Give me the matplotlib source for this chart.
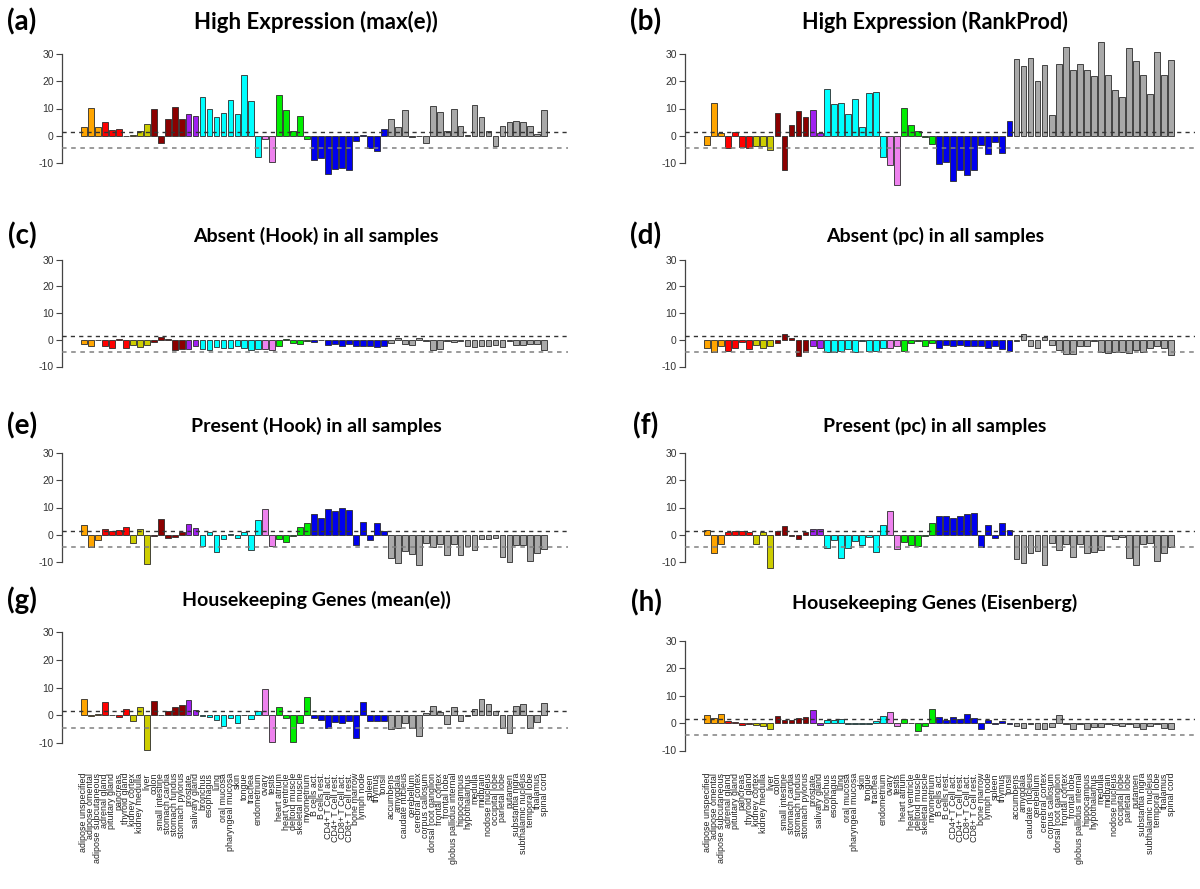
import matplotlib
matplotlib.use('Agg')
import matplotlib.pyplot as plt
from matplotlib.transforms import blended_transform_factory

tissues = [
    "adipose unspecified", "adipose omental", "adipose subcutaneous",
    "adrenal gland", "pituitary gland", "pancreas", "thyroid gland",
    "kidney cortex", "kidney medulla", "liver",
    "colon", "small intestine", "stomach cardia", "stomach fundus", "stomach pylorus",
    "prostate", "salivary gland",
    "bronchus", "esophagus", "lung", "oral mucosa", "pharyngeal mucosa", "skin",
    "tongue", "trachea", "endometrium",
    "ovary", "testis",
    "heart atrium", "heart ventricle", "deltoid muscle", "skeletal muscle", "myometrium",
    "B cells act.", "B cells rest.", "CD4+ T Cell act.", "CD4+ T Cell rest.",
    "CD8+ T Cell act.", "CD8+ T Cell rest.", "bone marrow", "lymph node", "spleen",
    "thymus", "tonsil",
    "accumbens", "amygdala", "caudate nucleus", "cerebellum", "cerebral cortex",
    "corpus callosum", "dorsal root ganglion", "frontal cortex", "frontal lobe",
    "globus pallidus internal", "hippocampus", "hypothalamus", "medulla", "midbrain",
    "nodose nucleus", "occipital lobe", "parietal lobe", "putamen", "substantia nigra",
    "subthalamic nucleus", "temporal lobe", "thalamus", "spinal cord",
]

group_sizes = [3, 4, 3, 5, 2, 9, 2, 5, 11, 23]
group_colors = ["#FFA500", "#FF0000", "#CDCD00", "#8B0000", "#A020F0",
                "#00FFFF", "#EE82EE", "#00EE00", "#0000EE", "#A9A9A9"]

high_max_e = [3.2, 10.1, 3.2, 5.2, 2.2, 2.4, -0.2, 0.3, 1.8, 4.3,
              9.9, -2.8, 6.3, 10.4, 6.1, 7.8, 7.4,
              14.4, 10.0, 6.8, 8.3, 13.0, 7.8, 22.3, 12.7, -7.8,
              -1.1, -9.8, 14.9, 9.4, 1.7, 7.2, -1.1,
              -9.0, -8.3, -14.0, -12.2, -11.8, -12.7, -2.1, 0.2, -4.6, -5.5, 2.4,
              6.1, 3.3, 9.4, -0.6, -0.1, -2.8, 10.9, 8.8, 1.6, 9.8, 3.5, 0.2,
              11.2, 6.8, 1.8, -3.7, 3.5, 4.9, 5.4, 5.0, 3.5, 0.5, 9.4]

high_rankprod = [-3.4, 11.9, 0.85, -4.5, 1.3, -4.1, -4.5, -3.6, -3.8, -5.1,
                 8.5, -12.4, 4.0, 9.2, 6.7, 9.5, 1.1,
                 17.3, 11.5, 12.2, 8.0, 13.6, 3.2, 15.6, 16.2, -7.8,
                 -10.7, -17.9, 10.1, 4.1, 1.7, -0.5, -3.0,
                 -10.4, -9.7, -16.7, -12.5, -14.4, -12.5, -3.4, -6.8, -2.4, -6.3, 5.5,
                 28.2, 25.6, 28.7, 20.2, 25.9, 7.5, 26.4, 32.7, 24.0, 26.4, 24.2, 21.8,
                 34.5, 22.2, 16.7, 14.1, 32.2, 27.5, 22.4, 15.2, 30.8, 22.2, 27.9]

absent_hook = [-1.5, -2.2, -0.2, -2.2, -2.9, 0.3, -2.9, -2.0, -2.7, -1.8,
               -0.9, 0.9, 0.4, -4.0, -3.4, -3.5, -2.5,
               -3.4, -3.7, -2.8, -3.0, -2.9, -2.5, -3.0, -3.7, -3.5,
               -3.4, -3.7, -2.2, 0.3, -1.3, -1.7, -0.3,
               -1.0, -0.2, -1.9, -1.7, -2.2, -1.7, -2.3, -2.5, -2.5, -2.8, -2.4,
               -1.2, 0.7, -1.5, -2.0, 0.8, -0.3, -3.8, -3.3, -0.3, -0.9, -0.3, -2.5,
               -2.7, -2.5, -2.5, -1.9, -2.7, -0.3, -2.0, -1.9, -1.7, -1.5, -3.7]

absent_pc = [-3.2, -4.7, -2.2, -4.1, -3.2, -0.8, -3.5, -2.1, -3.2, -2.2,
             -1.2, 2.0, 0.7, -6.2, -4.7, -2.2, -3.2,
             -4.7, -4.7, -4.1, -3.5, -4.4, -0.5, -4.1, -4.3, -3.1,
             -3.2, -2.5, -4.1, -1.4, -0.5, -2.5, -1.4,
             -3.2, -2.0, -2.2, -2.1, -2.5, -2.2, -2.5, -3.2, -2.2, -3.5, -4.2,
             -0.5, 2.1, -2.2, -3.0, 1.2, -2.0, -3.7, -5.4, -5.4, -2.5, -2.2, -0.3,
             -4.7, -4.9, -4.7, -4.7, -4.9, -3.8, -4.4, -3.2, -2.2, -3.0, -5.7]

present_hook = [3.6, -4.6, -1.9, 2.0, 1.4, 1.7, 2.7, -3.1, 2.1, -10.7,
                -0.3, 5.9, -1.1, -0.9, 1.1, 3.8, 2.3,
                -4.3, 0.9, -6.3, -1.5, 0.4, -1.2, 0.9, -5.6, 5.3,
                9.4, -4.1, -1.4, -2.7, -0.5, 3.0, 4.2,
                7.5, 6.3, 9.3, 8.8, 9.9, 9.1, -3.7, 4.7, -1.9, 4.2, 1.5,
                -8.6, -10.4, -6.0, -6.9, -11.1, -3.1, -4.6, -3.5, -7.4, -3.5, -7.5, -4.2,
                -5.6, -1.6, -1.6, -1.2, -8.0, -10.1, -3.7, -3.7, -9.5, -6.7, -5.2]

present_pc = [1.6, -6.7, -3.5, 1.1, 1.5, 1.4, 1.1, -3.5, 1.0, -12.3,
              1.2, 3.1, -0.5, -1.7, 1.0, 2.0, 2.1,
              -4.8, -1.9, -8.4, -4.9, -2.2, -3.7, -0.7, -6.2, 3.7,
              8.6, -5.2, -2.5, -3.7, -4.3, -0.3, 4.3,
              6.7, 6.7, 6.2, 6.8, 7.7, 8.0, -4.6, 3.6, -1.2, 4.3, 1.6,
              -8.9, -10.5, -6.7, -6.0, -11.1, -3.0, -5.7, -3.5, -8.1, -3.5, -6.8, -6.2,
              -5.6, -0.5, -1.6, -1.0, -8.5, -11.1, -3.5, -3.0, -9.5, -6.7, -4.6]

hk_mean_e = [5.7, -0.3, 0.6, 4.6, 0.2, -0.6, 2.4, -2.0, 2.8, -12.4,
             5.2, 0.1, 1.4, 3.1, 3.7, 5.5, 1.8,
             -0.3, -0.6, -1.7, -3.9, -1.1, -2.9, 0.2, -1.4, 1.7,
             9.6, -9.6, 2.8, -1.0, -9.5, -2.8, 6.4,
             -1.1, -1.8, -4.5, -2.5, -2.7, -2.2, -8.1, 4.9, -2.2, -2.0, -2.0,
             -5.1, -4.6, -2.9, -4.6, -7.5, 0.8, 3.4, 1.1, -3.3, 3.0, -1.9, -0.3,
             2.3, 5.8, 4.2, 1.6, -4.5, -6.3, 3.4, 4.1, -4.6, -2.5, 4.5]

hk_eisenberg = [3.0, 2.0, 3.5, 0.7, 0.5, -0.6, -0.2, -0.6, -1.1, -2.3,
                2.7, 1.0, 1.1, 1.8, 2.1, 4.8, -0.7,
                1.3, 1.0, 1.6, -0.2, -0.2, -0.2, -0.4, 0.6, 2.7,
                4.0, -1.2, 1.6, -0.1, -2.8, -1.0, 5.1,
                2.3, 1.2, 2.4, 1.6, 3.2, 1.8, -2.2, 1.0, -0.4, 0.6, -0.4,
                -1.1, -1.8, -0.4, -2.2, -2.2, -1.3, 2.8, -0.3, -2.1, -0.3, -2.1, -1.3,
                -1.3, -0.3, -0.8, -1.1, -0.3, -1.5, -2.0, -1.1, -0.3, -1.9, -2.2]

titles = ["High Expression (max(e))", "High Expression (RankProd)",
          "Absent (Hook) in all samples", "Absent (pc) in all samples",
          "Present (Hook) in all samples", "Present (pc) in all samples",
          "Housekeeping Genes (mean(e))", "Housekeeping Genes (Eisenberg)"]
letters = ["(a)", "(b)", "(c)", "(d)", "(e)", "(f)", "(g)", "(h)"]
panel_values = [high_max_e, high_rankprod, absent_hook, absent_pc,
                present_hook, present_pc, hk_mean_e, hk_eisenberg]

upper_cut = 1.45
lower_cut = -4.5

colors = []
for size, col in zip(group_sizes, group_colors):
    colors += [col] * size

W, H = 1200, 889
fig = plt.figure(figsize=(W / 100, H / 100), dpi=100)
fig.patch.set_facecolor("white")

# pixel layout: (left, right, title x, letter x)
cols_px = [(62, 568, 316, 22), (685, 1195, 935, 646)]
# per row/col: (y of 30, y of -10, title y, title size)
rows_px = [
    [(54, 163, 22, 16), (54, 163, 22, 15.5)],
    [(259.5, 366.5, 236, 14), (259.5, 366.5, 236, 14)],
    [(453, 562, 426, 14), (453, 562, 426, 14)],
    [(632, 743, 600, 14), (641, 750.5, 603, 14)],
]

YLO, YHI = -19, 36
XLO, XHI = -2.15, 70.4
xs = list(range(1, len(tissues) + 1))

for idx, vals in enumerate(panel_values):
    r, c = divmod(idx, 2)
    left, right, tx, lx = cols_px[c]
    y30, ym10, ty, tsize = rows_px[r][c]
    k = (ym10 - y30) / 40.0
    top_px = y30 - (YHI - 30) * k
    bot_px = ym10 + (-10 - YLO) * k
    ax = fig.add_axes([left / W, 1 - bot_px / H, (right - left) / W, (bot_px - top_px) / H])
    ax.set_xlim(XLO, XHI)
    ax.set_ylim(YLO, YHI)
    ax.patch.set_alpha(0)
    ax.bar(xs, vals, width=0.83, color=colors, edgecolor="#2b2b2b", linewidth=0.6, zorder=2)
    ax.axhline(upper_cut, color="#333333", lw=1.0, ls=(0, (3, 3)), zorder=3)
    ax.axhline(lower_cut, color="#808080", lw=1.1, ls=(0, (3, 3)), zorder=3)
    for s in ["top", "right", "bottom"]:
        ax.spines[s].set_visible(False)
    ax.spines["left"].set_bounds(-10, 30)
    ax.spines["left"].set_color("#444444")
    ax.spines["left"].set_linewidth(0.9)
    ax.set_yticks([-10, 0, 10, 20, 30])
    ax.set_yticklabels(["-10", "0", "10", "20", "30"], fontsize=7.5,
                       family="Liberation Sans", color="#333333")
    ax.tick_params(axis="y", length=4, width=0.8, color="#444444", pad=2)
    ax.set_xticks([])
    fig.text(tx / W, 1 - ty / H, titles[idx], ha="center", va="center",
             fontsize=tsize, fontweight="bold", family="Lato")
    fig.text(lx / W, 1 - ty / H, letters[idx], ha="center", va="center",
             fontsize=20, fontweight="bold", family="Lato")
    if r == 3:
        trans = blended_transform_factory(ax.transData, fig.transFigure)
        for x, name in zip(xs, tissues):
            ax.text(x, 1 - 773 / H, name, transform=trans, rotation=90,
                    ha="center", va="top", fontsize=6.4, family="Liberation Sans",
                    color="#222222", clip_on=False)

fig.savefig("out.png", dpi=100, facecolor="white")
